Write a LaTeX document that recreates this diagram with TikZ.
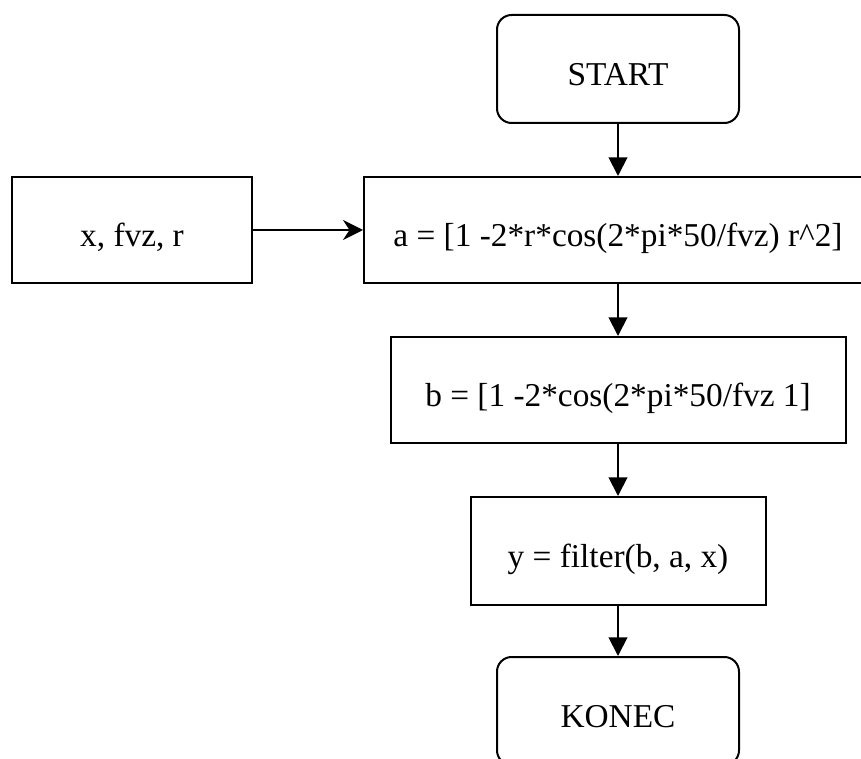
\documentclass[tikz,border=0pt]{standalone}
\usepackage{fontspec}
\setmainfont{Liberation Serif}
\usepackage{tikz}
\usetikzlibrary{calc,shapes,arrows.meta}
\tikzstyle{termbox}=[rectangle,rounded corners=11pt,draw=black,line width=1.5pt,fill=white,
                     minimum width=181.5pt,minimum height=81pt,text height=24.5pt,text depth=0pt,
                     font=\fontsize{25}{29}\selectfont]
\tikzstyle{stepbox}=[rectangle,draw=black,line width=1.5pt,fill=white,
                     minimum height=79.5pt,text height=24.5pt,text depth=0pt,
                     font=\fontsize{25}{29}\selectfont]
\tikzstyle{flow}=[line width=1.5pt,-{Triangle[length=14pt,width=14pt]}]
\tikzstyle{inflow}=[line width=1.5pt,-{Stealth[length=15pt,width=15pt]}]
\newcommand\midcol{618}

\begin{document}
\begin{tikzpicture}[x=0.75pt,y=-0.75pt]
    	\useasboundingbox (0,0) rectangle (861,759);
    	\node [termbox] (start) at ($(\midcol,69)$) {START};
    	\node [stepbox,minimum width=180pt] (vstup) at ($(132,230)$) {x, fvz, r};
    	\node [stepbox,minimum width=381pt] (a) at ($(\midcol,230)$) {a = [1 -2*r*cos(2*pi*50/fvz) r\^{}2]};
    	\node [stepbox,minimum width=341.25pt] (b) at ($(\midcol,390)$) {b = [1 -2*cos(2*pi*50/fvz 1]};
    	\node [stepbox,minimum width=221.25pt,minimum height=81pt] (y) at ($(\midcol,551)$) {y = filter(b, a, x)};
    	\node [termbox] (konec) at ($(\midcol,711)$) {KONEC};
    	% spoje
    	\draw [flow] (start) -- (a);
    	\draw [inflow] (vstup) -- (a);
    	\draw [flow] (a) -- (b);
    	\draw [flow] (b) -- (y);
    	\draw [flow] (y) -- (konec);
    \end{tikzpicture}
\end{document}
